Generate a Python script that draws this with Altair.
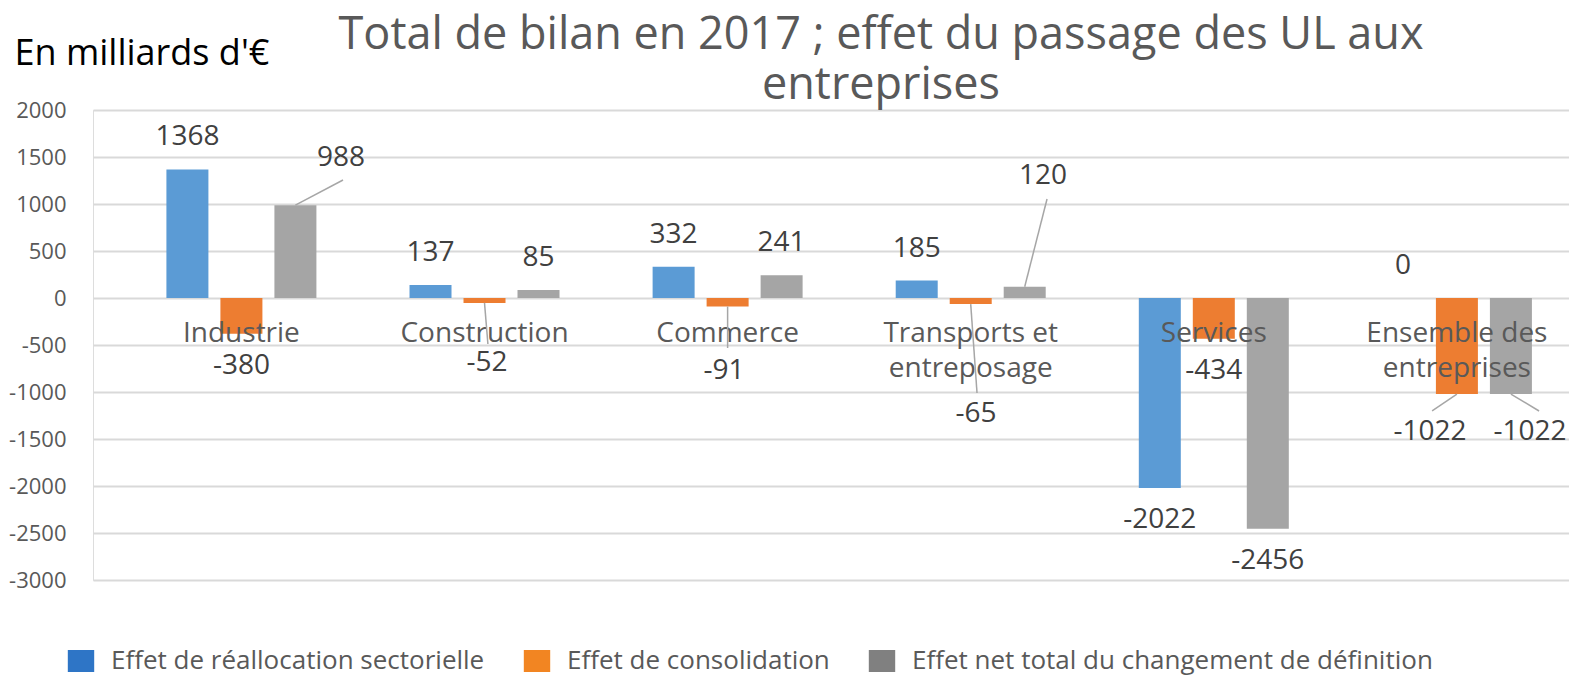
import altair as alt
import pandas as pd

# ---------------- data ----------------
categories = ["Industrie", "Construction", "Commerce", "Transports et\nentreposage",
              "Services", "Ensemble des\nentreprises"]
series = ["Effet de réallocation sectorielle", "Effet de consolidation",
          "Effet net total du changement de définition"]
reallocation = [1368, 137, 332, 185, -2022, 0]
consolidation = [-380, -52, -91, -65, -434, -1022]
net_total = [988, 85, 241, 120, -2456, -1022]
y_ticks = [-3000, -2500, -2000, -1500, -1000, -500, 0, 500, 1000, 1500, 2000]

# labels that were moved by hand in the original (category index, series index)
moved_cat = [0, 1, 2, 3, 3, 5, 5]
moved_ser = [2, 1, 1, 1, 2, 1, 2]
moved_label_x = [0.41, 1.01, 1.985, 3.022, 3.297, 4.889, 5.301]
moved_label_y = [1489, -691, -777, -1234, 1298, -1426, -1426]
leader_end_x = [0.418, 1.014, 2.0, 3.026, 3.314, 4.898, 5.338]
leader_end_y = [1255, -489, -532, -1011, 1053, -1202, -1202]

bar_colors = ["#5B9BD5", "#ED7D31", "#A5A5A5"]
legend_colors = ["#2E75C6", "#F28522", "#808080"]
FONT = "Open Sans"
BAR_STEP = 54 / 243.1  # spacing of bars inside a group, in category units

# ---------------- tables ----------------
values = [reallocation, consolidation, net_total]
rows = []
for i, cat in enumerate(categories):
    for j, s in enumerate(series):
        v = values[j][i]
        rows.append({"cat": cat, "idx": i, "series": s, "sidx": j,
                     "xpos": i + (j - 1) * BAR_STEP, "value": v, "label": str(v),
                     "moved": any(mc == i and ms == j for mc, ms in zip(moved_cat, moved_ser))})
df = pd.DataFrame(rows)

mrows = []
for k in range(len(moved_cat)):
    i, j = moved_cat[k], moved_ser[k]
    v = values[j][i]
    mrows.append({"bx": i + (j - 1) * BAR_STEP, "by": v,
                  "lx": moved_label_x[k], "ly": moved_label_y[k],
                  "ex": leader_end_x[k], "ey": leader_end_y[k], "label": str(v)})
mdf = pd.DataFrame(mrows)

cdf = pd.DataFrame({"idx": list(range(len(categories))), "cat": categories})

# ---------------- scales ----------------
xs = alt.Scale(domain=[-0.6105, 5.4611], nice=False, zero=False, padding=0)
ys = alt.Scale(domain=[-3000, 2000], nice=False, zero=False, padding=0)

yaxis = alt.Axis(values=y_ticks, labelExpr="datum.value + ''", title="En milliards d'€",
                 titleAngle=0, titleAlign="left", titleBaseline="alphabetic",
                 titleX=-79, titleY=-46, titleFontSize=36, titleFont=FONT,
                 titleFontWeight="normal", titleColor="#000000",
                 labelFont=FONT, labelFontSize=22, labelColor="#595959", labelPadding=27,
                 ticks=False, domain=False, grid=True, gridColor="#D9D9D9", gridWidth=2)

base = alt.Chart(df)

bars = base.mark_bar(orient="vertical", size=42).encode(
    x=alt.X("xpos:Q", scale=xs, axis=None),
    y=alt.Y("value:Q", scale=ys, axis=yaxis),
    y2=alt.datum(0),
    color=alt.Color("series:N", scale=alt.Scale(domain=series, range=bar_colors), legend=None),
)

legend_layer = base.mark_bar(orient="vertical", size=1).encode(
    x=alt.X("xpos:Q", scale=xs),
    y=alt.datum(0),
    y2=alt.datum(0),
    color=alt.Color("series:N", scale=alt.Scale(domain=series, range=legend_colors),
                    legend=alt.Legend(title=None, orient="none", legendX=-25, legendY=538,
                                      direction="horizontal",
                                      symbolType="M-1.2,-1H1.2V1H-1.2Z",
                                      symbolSize=484, symbolStrokeWidth=0,
                                      labelFont=FONT, labelFontSize=26, labelColor="#595959",
                                      labelOffset=17, columnPadding=38, labelLimit=2000,
                                      padding=0)),
)

cat_labels = alt.Chart(cdf).mark_text(font=FONT, fontSize=28, color="#595959",
                                      baseline="alphabetic", align="center", dy=44,
                                      lineBreak="\n", lineHeight=35).encode(
    x=alt.X("idx:Q", scale=xs),
    y=alt.datum(0),
    text="cat:N",
)

std_pos = base.transform_filter("!datum.moved && datum.value >= 0").mark_text(
    font=FONT, fontSize=28, color="#404040", baseline="middle", dy=-32).encode(
    x=alt.X("xpos:Q", scale=xs), y=alt.Y("value:Q", scale=ys), text="label:N")

std_neg = base.transform_filter("!datum.moved && datum.value < 0").mark_text(
    font=FONT, fontSize=28, color="#404040", baseline="middle", dy=32).encode(
    x=alt.X("xpos:Q", scale=xs), y=alt.Y("value:Q", scale=ys), text="label:N")

leaders = alt.Chart(mdf).mark_rule(color="#A6A6A6", strokeWidth=1.5).encode(
    x=alt.X("bx:Q", scale=xs), y=alt.Y("by:Q", scale=ys),
    x2="ex:Q", y2="ey:Q")

moved_text = alt.Chart(mdf).mark_text(font=FONT, fontSize=28, color="#404040",
                                      baseline="middle").encode(
    x=alt.X("lx:Q", scale=xs), y=alt.Y("ly:Q", scale=ys), text="label:N")

chart = alt.layer(bars, legend_layer, cat_labels, leaders, std_pos, std_neg, moved_text).resolve_scale(
    color="independent"
).properties(
    width=1476, height=470,
    title=alt.TitleParams(text=["Total de bilan en 2017 ; effet du passage des UL aux", "entreprises"],
                          font=FONT, fontSize=45, fontWeight="normal", color="#595959",
                          anchor="middle", dx=50, dy=77, lineHeight=50),
    autosize=alt.AutoSizeParams(type="none"),
    padding={"left": 85, "top": 102, "right": 0, "bottom": 98},
).configure_view(stroke=None).configure(background="white")

chart.save("out.html", embed_options={"renderer": "svg", "actions": False})
